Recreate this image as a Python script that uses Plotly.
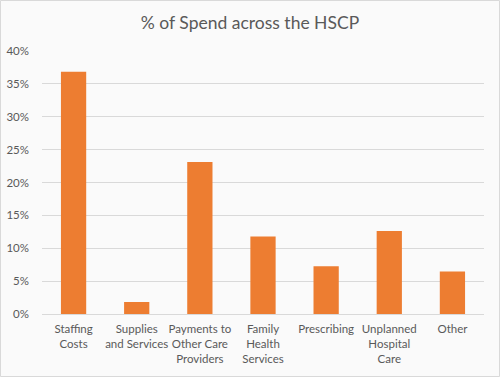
import plotly.graph_objects as go

categories = ["Staffing<br>Costs", "Supplies<br>and Services", "Payments to<br>Other Care<br>Providers",
              "Family<br>Health<br>Services", "Prescribing", "Unplanned<br>Hospital<br>Care", "Other"]
values = [0.3685, 0.0183, 0.231, 0.1178, 0.0726, 0.1264, 0.0645]
y_ticks = [0, 0.05, 0.10, 0.15, 0.20, 0.25, 0.30, 0.35, 0.40]

W, H = 500, 377
L, R, T, B = 42, 16, 51, 63
pw, ph = W - L - R, H - T - B

fig = go.Figure(go.Bar(x=categories, y=values, marker_color="#ED7D31",
                       marker_line_width=0, width=0.4))

font_family = "Lato, 'Open Sans', sans-serif"
fig.update_layout(
    width=W, height=H,
    margin=dict(l=L, r=R, t=T, b=B, autoexpand=False),
    paper_bgcolor="#fafafa", plot_bgcolor="#fafafa",
    title=dict(text="% of Spend across the HSCP", x=0.5, xanchor="center",
               y=1 - 23 / H, yanchor="middle",
               font=dict(family=font_family, size=17.5, color="#595959")),
    font=dict(family=font_family, size=11.5, color="#595959"),
    showlegend=False,
    bargap=0.6,
    shapes=[dict(type="rect", xref="paper", yref="paper",
                 x0=-L / pw + 0.5 / pw, x1=1 + (R - 0.5) / pw,
                 y0=-B / ph + 0.5 / ph, y1=1 + (T - 0.5) / ph,
                 line=dict(color="#d9d9d9", width=1), fillcolor="rgba(0,0,0,0)", layer="below")],
)
fig.update_yaxes(range=[0, 0.40], tickvals=y_ticks, tickformat=".0%",
                 gridcolor="#d9d9d9", gridwidth=1, zeroline=False, automargin=False,
                 showline=False, ticklabelstandoff=12, fixedrange=True)
fig.update_xaxes(showline=True, linecolor="#d9d9d9", linewidth=1, tickangle=0, automargin=False,
                 showgrid=False, ticklabelstandoff=4, fixedrange=True)

fig.write_html("out.html", config={"displayModeBar": False},
               post_script="document.body.style.margin='0';document.body.style.overflow='hidden';")
